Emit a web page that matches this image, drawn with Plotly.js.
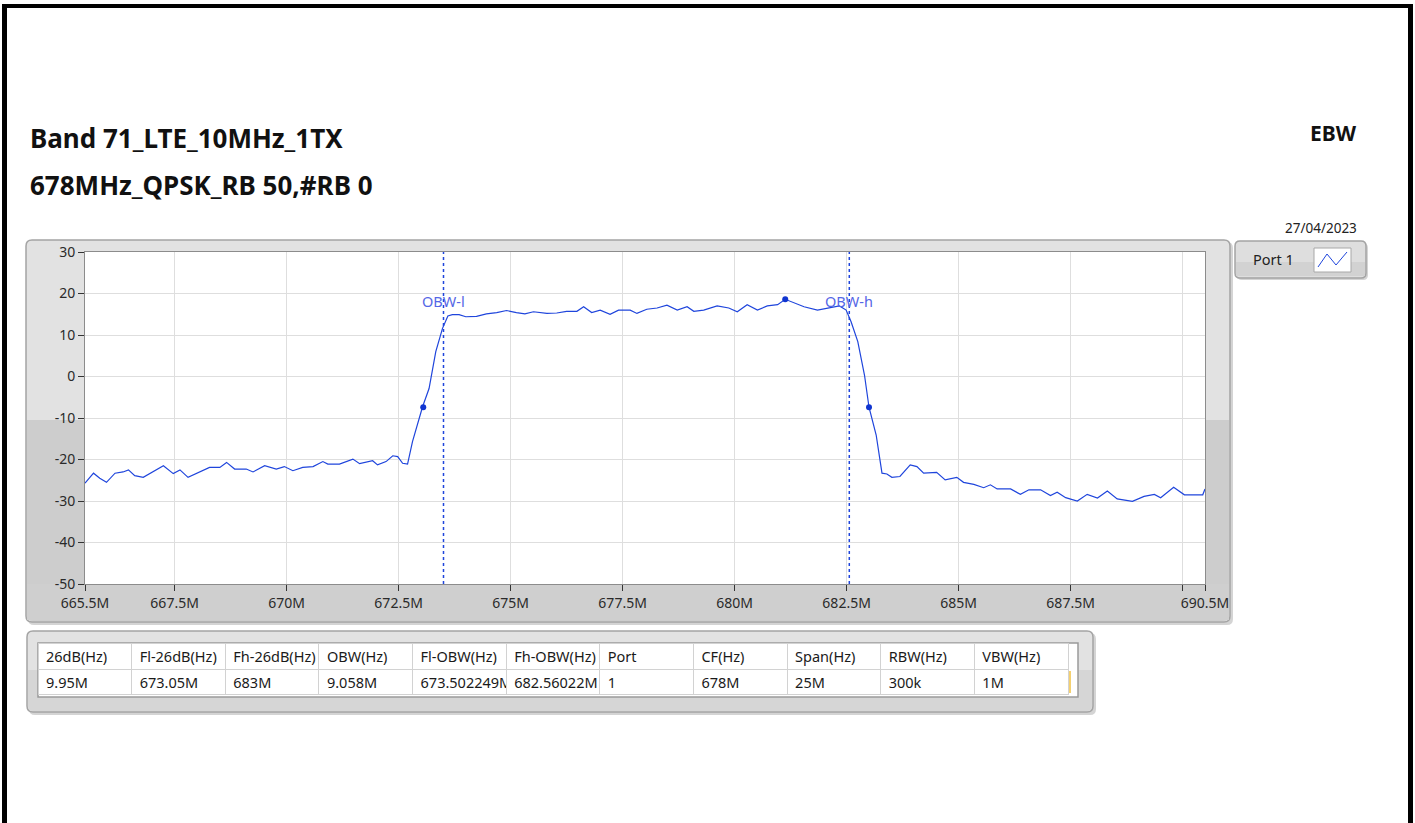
<!DOCTYPE html>
<html>
<head>
<meta charset="utf-8">
<script src="https://cdn.plot.ly/plotly-3.0.1.min.js"></script>
<style>html,body{margin:0;padding:0;background:#fff;}#chart{width:1415px;height:823px;}</style>
</head>
<body>
<div id="chart"></div>
<script>
// ---------- data ----------
const freqMHz = [665.5,665.69,665.83,665.98,666.17,666.35,666.47,666.61,666.80,667.02,667.25,667.47,667.62,667.80,668.06,668.28,668.51,668.66,668.84,669.10,669.25,669.51,669.77,669.95,670.14,670.36,670.59,670.81,670.92,671.18,671.48,671.63,671.92,672.03,672.22,672.37,672.48,672.59,672.70,672.81,673.035,673.18,673.33,673.48,673.60,673.70,673.85,674.00,674.24,674.46,674.69,674.91,675.13,675.32,675.51,675.81,676.03,676.25,676.48,676.63,676.81,677.00,677.22,677.41,677.67,677.82,678.04,678.27,678.49,678.72,678.94,679.09,679.31,679.61,679.87,680.06,680.28,680.51,680.73,680.96,681.13,681.37,681.55,681.85,682.07,682.34,682.49,682.60,682.75,682.90,683.00,683.16,683.29,683.40,683.51,683.69,683.92,684.07,684.22,684.51,684.70,684.96,685.11,685.34,685.56,685.71,685.86,686.16,686.38,686.57,686.83,687.05,687.20,687.39,687.65,687.87,688.10,688.32,688.54,688.88,689.14,689.37,689.51,689.80,690.04,690.30,690.45,690.50];
const levelDbm = [-25.7,-23.3,-24.5,-25.5,-23.3,-23.0,-22.5,-23.9,-24.3,-22.9,-21.5,-23.4,-22.5,-24.3,-23.0,-21.9,-21.9,-20.7,-22.3,-22.3,-23.0,-21.5,-22.3,-21.7,-22.7,-21.9,-21.7,-20.5,-21.1,-21.1,-19.9,-21.0,-20.3,-21.3,-20.5,-19.1,-19.3,-20.9,-21.1,-15.7,-7.3,-2.9,6.0,11.6,14.6,14.9,14.9,14.4,14.5,15.1,15.4,15.9,15.4,15.1,15.6,15.2,15.3,15.7,15.7,16.8,15.4,16.0,15.0,16.0,16.0,15.2,16.2,16.5,17.2,16.0,16.8,15.7,16.0,17.0,16.5,15.6,17.3,16.0,17.0,17.3,18.6,17.6,16.8,16.0,16.4,17.0,16.0,13.2,8.4,0.3,-7.4,-14.1,-23.3,-23.5,-24.3,-24.1,-21.3,-21.7,-23.3,-23.1,-24.9,-24.3,-25.5,-26.0,-26.8,-26.1,-27.1,-27.1,-28.4,-27.3,-27.3,-28.7,-27.9,-29.2,-30.0,-28.4,-29.3,-27.6,-29.5,-30.1,-28.9,-28.4,-29.2,-26.7,-28.5,-28.4,-28.5,-27.1];

const markerFreqMHz = [673.05, 681.13, 683.0];
const markerDbm = [-7.4, 18.6, -7.4];
const obwLowMHz = 673.502249;
const obwHighMHz = 682.56022;
const obwLabels = ["OBW-l", "OBW-h"];

const xTickVals = [665.5,667.5,670,672.5,675,677.5,680,682.5,685,687.5,690,690.5];
const xTickText = ["665.5M","667.5M","670M","672.5M","675M","677.5M","680M","682.5M","685M","687.5M","","690.5M"];
const yTickVals = [-50,-40,-30,-20,-10,0,10,20,30];
const yTickText = ["-50","-40","-30","-20","-10","0","10","20","30"];

const titleLine1 = "Band 71_LTE_10MHz_1TX";
const titleLine2 = "678MHz_QPSK_RB 50,#RB 0";
const cornerLabel = "EBW";
const dateLabel = "27/04/2023";
const legendLabel = "Port 1";

const tableHeaders = ["26dB(Hz)","Fl-26dB(Hz)","Fh-26dB(Hz)","OBW(Hz)","Fl-OBW(Hz)","Fh-OBW(Hz)","Port","CF(Hz)","Span(Hz)","RBW(Hz)","VBW(Hz)"];
const tableRow = ["9.95M","673.05M","683M","9.058M","673.502249M","682.56022M","1","678M","25M","300k","1M"];

// ---------- layout helpers ----------
const W = 1415, H = 823;
const px = x => x / W;
const py = y => 1 - y / H;
const FONT = "Noto Sans, Open Sans, sans-serif";
const BLUE = "#1f45dc";

function rrPath(x0, y0, x1, y1, r) {
  const P = (x, y) => px(x).toFixed(6) + "," + py(y).toFixed(6);
  return "M" + P(x0 + r, y0) + " L" + P(x1 - r, y0) + " Q" + P(x1, y0) + " " + P(x1, y0 + r) +
    " L" + P(x1, y1 - r) + " Q" + P(x1, y1) + " " + P(x1 - r, y1) +
    " L" + P(x0 + r, y1) + " Q" + P(x0, y1) + " " + P(x0, y1 - r) +
    " L" + P(x0, y0 + r) + " Q" + P(x0, y0) + " " + P(x0 + r, y0) + " Z";
}
function rect(x0, y0, x1, y1, fill, line, lw) {
  return {type: "rect", xref: "paper", yref: "paper", layer: "below",
    x0: px(x0), x1: px(x1), y0: py(y1), y1: py(y0),
    fillcolor: fill, line: {color: line || fill, width: lw === undefined ? 0 : lw}};
}
function pathShape(d, fill, line, lw) {
  return {type: "path", xref: "paper", yref: "paper", layer: "below", path: d,
    fillcolor: fill, line: {color: line || fill, width: lw === undefined ? 0 : lw}};
}

const shapes = [
  // page frame
  rect(2, 4, 1413, 8, "#000"),
  rect(2, 4, 7, 823, "#000"),
  rect(1408, 4, 1413, 823, "#000"),
  // graph panel shadow + body
  pathShape(rrPath(28, 242, 1233, 625, 6), "#d4d4d4"),
  pathShape(rrPath(26, 240, 1230, 622, 6), "#e2e2e2", "#a4a4a4", 1.5),
  pathShape("M" + px(27) + "," + py(420) + " L" + px(1229) + "," + py(420) + " L" + px(1229) + "," + py(615) +
    " Q" + px(1229) + "," + py(621) + " " + px(1223) + "," + py(621) + " L" + px(33) + "," + py(621) +
    " Q" + px(27) + "," + py(621) + " " + px(27) + "," + py(615) + " Z", "#cdcdcd"),
  rect(27, 584, 1229, 620, "#cfcfcf"),
  rect(85, 252, 1205, 584, "#ffffff"),
  // legend panel
  pathShape(rrPath(1237, 243, 1368, 280, 5), "#d4d4d4"),
  pathShape(rrPath(1235, 241, 1366, 278, 5), "#dedede", "#a4a4a4", 1.5),
  rect(1236, 262, 1365, 276, "#d2d2d2"),
  rect(1314, 248, 1351, 272, "#ffffff", "#a8a8a8", 1),
  {type: "path", xref: "paper", yref: "paper", layer: "above",
   path: "M" + px(1318) + "," + py(267) + " L" + px(1327) + "," + py(254) + " L" + px(1336) + "," + py(265) + " L" + px(1347) + "," + py(252),
   line: {color: BLUE, width: 1}},
  // table panel
  pathShape(rrPath(29, 633, 1096, 715, 6), "#d4d4d4"),
  pathShape(rrPath(27, 631, 1093, 712, 6), "#e2e2e2", "#a4a4a4", 1.5),
  pathShape("M" + px(28) + "," + py(670) + " L" + px(1092) + "," + py(670) + " L" + px(1092) + "," + py(706) +
    " Q" + px(1092) + "," + py(711) + " " + px(1087) + "," + py(711) + " L" + px(33) + "," + py(711) +
    " Q" + px(28) + "," + py(711) + " " + px(28) + "," + py(706) + " Z", "#d6d6d6"),
  rect(38, 643, 1078, 697, "#ffffff", "#9a9a9a", 1.5),
  {type: "line", xref: "paper", yref: "paper", layer: "above",
   x0: px(1070), x1: px(1070), y0: py(671), y1: py(693), line: {color: "#f0c040", width: 1.5}}
];

const annotations = [
  {text: titleLine1, xref: "paper", yref: "paper", x: px(28), y: py(138), xanchor: "left", yanchor: "middle", showarrow: false,
   font: {family: FONT, size: 26, color: "#111", weight: "bold"}},
  {text: titleLine2, xref: "paper", yref: "paper", x: px(28), y: py(185), xanchor: "left", yanchor: "middle", showarrow: false,
   font: {family: FONT, size: 26, color: "#111", weight: "bold"}},
  {text: cornerLabel, xref: "paper", yref: "paper", x: px(1359), y: py(133), xanchor: "right", yanchor: "middle", showarrow: false,
   font: {family: FONT, size: 21, color: "#111", weight: "bold"}},
  {text: dateLabel, xref: "paper", yref: "paper", x: px(1359), y: py(228), xanchor: "right", yanchor: "middle", showarrow: false,
   font: {family: FONT, size: 13.5, color: "#222"}},
  {text: legendLabel, xref: "paper", yref: "paper", x: px(1251), y: py(259), xanchor: "left", yanchor: "middle", showarrow: false,
   font: {family: FONT, size: 14.5, color: "#222"}},
  {text: obwLabels[0], xref: "x", yref: "y", x: obwLowMHz, y: 18.2, xanchor: "center", yanchor: "middle", showarrow: false,
   font: {family: FONT, size: 14.5, color: "#5566e6"}},
  {text: obwLabels[1], xref: "x", yref: "y", x: obwHighMHz, y: 18.2, xanchor: "center", yanchor: "middle", showarrow: false,
   font: {family: FONT, size: 14.5, color: "#5566e6"}}
];

const traces = [
  {type: "scatter", mode: "lines", x: [obwLowMHz, obwLowMHz, null, obwHighMHz, obwHighMHz], y: [-50, 30, null, -50, 30],
   line: {color: BLUE, width: 1.5, dash: "3px,3px"}, hoverinfo: "skip"},
  {type: "scatter", mode: "lines", x: freqMHz, y: levelDbm, name: legendLabel,
   line: {color: BLUE, width: 1.2}},
  {type: "scatter", mode: "markers", x: markerFreqMHz, y: markerDbm,
   marker: {color: "#1035d0", size: 6}},
  {type: "table",
   domain: {x: [px(38), px(1068)], y: [py(697), py(643)]},
   columnwidth: tableHeaders.map(() => 1),
   header: {values: tableHeaders, align: "left", height: 26,
     fill: {color: "#ffffff"}, line: {color: "#d2d2d2", width: 1},
     font: {family: FONT, size: 14.5, color: "#1a1a1a"}},
   cells: {values: tableRow.map(v => [v]), align: "left", height: 25,
     fill: {color: "#ffffff"}, line: {color: "#d2d2d2", width: 1},
     font: {family: FONT, size: 14.5, color: "#1a1a1a"}}}
];

const layout = {
  width: W, height: H,
  margin: {l: 0, r: 0, t: 0, b: 0},
  paper_bgcolor: "#ffffff", plot_bgcolor: "#ffffff",
  showlegend: false,
  font: {family: FONT, color: "#2a2a2a"},
  xaxis: {domain: [px(85), px(1205)], range: [665.5, 690.5], tickmode: "array", tickvals: xTickVals, ticktext: xTickText,
    ticks: "outside", ticklen: 6, tickcolor: "#333", tickwidth: 1, showgrid: true, gridcolor: "#dedede", gridwidth: 1,
    showline: true, linecolor: "#8c8c8c", linewidth: 1, mirror: true, zeroline: false, fixedrange: true,
    tickfont: {family: FONT, size: 14, color: "#2a2a2a"}, automargin: false},
  yaxis: {domain: [py(584), py(252)], range: [-50, 30], tickmode: "array", tickvals: yTickVals, ticktext: yTickText,
    ticks: "outside", ticklen: 6, tickcolor: "#333", tickwidth: 1, showgrid: true, gridcolor: "#dedede", gridwidth: 1,
    showline: true, linecolor: "#8c8c8c", linewidth: 1, mirror: true, zeroline: false, fixedrange: true,
    tickfont: {family: FONT, size: 14, color: "#2a2a2a"}, automargin: false},
  shapes: shapes,
  annotations: annotations
};

Plotly.newPlot("chart", traces, layout, {displayModeBar: false, staticPlot: true});
</script>
</body>
</html>
